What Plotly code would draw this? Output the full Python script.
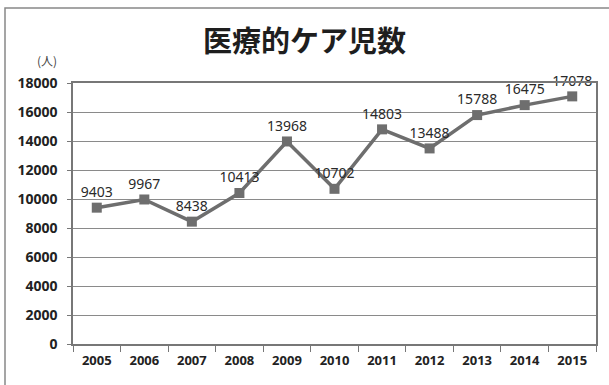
import plotly.graph_objects as go

years = ["2005", "2006", "2007", "2008", "2009", "2010", "2011", "2012", "2013", "2014", "2015"]
counts = [9403, 9967, 8438, 10413, 13968, 10702, 14803, 13488, 15788, 16475, 17078]
y_ticks = [0, 2000, 4000, 6000, 8000, 10000, 12000, 14000, 16000, 18000]

W, H = 609, 385
L, R, T, B = 73, 13, 83, 41
pw, ph = W - L - R, H - T - B

def px_x(x):
    return (x - L) / pw

def px_y(y):
    return (H - B - y) / ph

fig = go.Figure()
fig.add_trace(go.Scatter(
    x=years, y=counts, mode="lines+markers+text",
    line=dict(color="#6e6e6e", width=3.5),
    marker=dict(symbol="square", size=10, color="#6e6e6e"),
    text=[str(v) for v in counts], textposition="top center",
    textfont=dict(family="Noto Sans, DejaVu Sans", size=14, color="#2a2a2a"),
    cliponaxis=False, showlegend=False,
))

fig.update_layout(
    width=W, height=H,
    margin=dict(l=L, r=R, t=T, b=B),
    paper_bgcolor="white", plot_bgcolor="white",
    title=dict(text="<b>医療的ケア児数</b>", x=0.5, xanchor="center", y=1 - 42 / H, yanchor="middle",
               font=dict(family="Noto Sans CJK JP", size=29, color="#1e1e1e")),
    xaxis=dict(type="category", categoryorder="array", categoryarray=years,
               tickson="boundaries", ticks="outside", ticklen=6, tickcolor="#777777",
               showline=True, linecolor="#777777", linewidth=1.5, mirror=True,
               showgrid=False, ticklabelstandoff=4,
               tickfont=dict(family="Noto Sans, DejaVu Sans", size=13, color="#222222", weight="bold"),
               range=[-0.5, len(years) - 0.5]),
    yaxis=dict(range=[0, 18000], tickvals=y_ticks, ticktext=[str(v) for v in y_ticks],
               ticks="outside", ticklen=4, tickcolor="#777777",
               showline=True, linecolor="#777777", linewidth=1.5, mirror=True,
               showgrid=True, gridcolor="#8a8a8a", gridwidth=1.3, ticklabelstandoff=7,
               tickfont=dict(family="Noto Sans, DejaVu Sans", size=14, color="#222222", weight="bold"),
               zeroline=False),
    annotations=[dict(text="(人)", xref="paper", yref="paper", x=px_x(47), y=px_y(61),
                      xanchor="center", yanchor="middle", showarrow=False,
                      font=dict(family="Noto Sans CJK JP", size=12, color="#444444"))],
    shapes=[dict(type="rect", xref="paper", yref="paper",
                 x0=px_x(5), x1=px_x(620), y0=px_y(395), y1=px_y(8),
                 line=dict(color="#888888", width=1.5), fillcolor="rgba(0,0,0,0)", layer="below")],
)

fig.write_html("out.html")
